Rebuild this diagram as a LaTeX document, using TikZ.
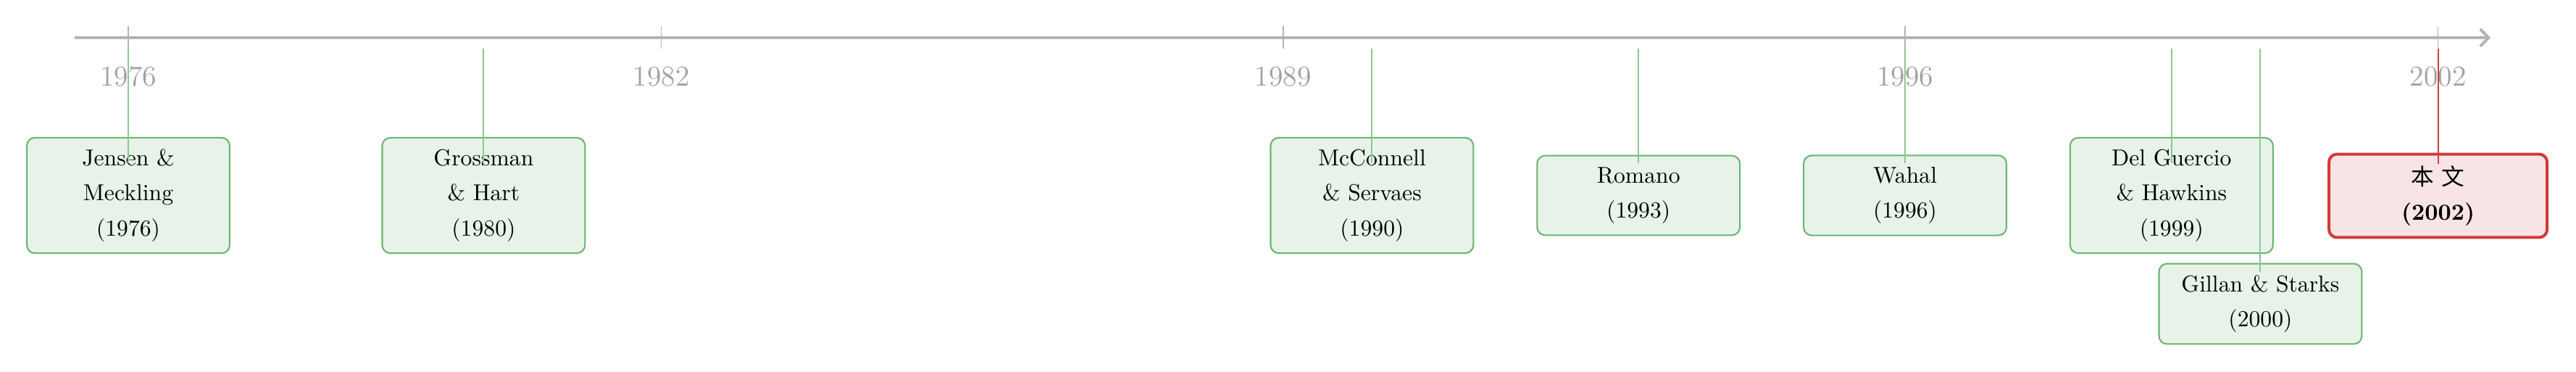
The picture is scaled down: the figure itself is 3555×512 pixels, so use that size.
\documentclass[tikz,border=0pt]{standalone}
\usepackage{fontspec}
\newfontfamily\cjk{Noto Sans CJK SC}
\usetikzlibrary{arrows.meta,calc}
\definecolor{axisgray}{HTML}{B3B3B3}
\definecolor{labelgray}{HTML}{A0A0A0}
\definecolor{boxgreen}{HTML}{6AB46E}
\definecolor{fillgreen}{HTML}{E7F3E8}
\definecolor{linegreen}{HTML}{8CC792}
\definecolor{boxred}{HTML}{D13A3A}
\definecolor{fillred}{HTML}{F8E4E5}
\definecolor{linered}{HTML}{D53C3C}
\begin{document}
\begin{tikzpicture}[x=0.3155pt,y=-0.3155pt,
  evbox/.style={draw=boxgreen, fill=fillgreen, line width=0.65pt, rounded corners=3.5pt,
    align=center, minimum width=88.3pt, inner sep=5pt, font=\fontsize{10}{15.3}\selectfont},
  threeline/.style={minimum height=50.2pt},
  twoline/.style={minimum height=34.4pt},
  mainbox/.style={draw=boxred, fill=fillred, line width=1.26pt, rounded corners=3.5pt,
    align=center, minimum width=95pt, minimum height=35.4pt, inner sep=5pt,
    font=\fontsize{10}{15.3}\selectfont},
  yearlbl/.style={text=labelgray, font=\fontsize{12.5}{15}\selectfont, inner sep=0pt},
  tickmark/.style={draw=axisgray, line width=0.45pt},
  conn/.style={draw=linegreen, line width=0.6pt},
  connred/.style={draw=linered, line width=0.6pt},
  axisline/.style={draw=axisgray, line width=1.26pt, -{Straight Barb[length=3.6pt,width=7.5pt]}},
]
\useasboundingbox[fill=white] (0,0) rectangle (3555,512);

% axis
\coordinate (axstart) at (103,52);
\coordinate (axend) at (3437,52);
\draw[axisline] (axstart) -- (axend);

% ticks
\coordinate (tt1976) at (177,36);    \coordinate (tb1976) at (177,67);
\coordinate (tt1982) at (912.6,36);  \coordinate (tb1982) at (912.6,67);
\coordinate (tt1989) at (1770.8,36); \coordinate (tb1989) at (1770.8,67);
\coordinate (tt1996) at (2629,36);   \coordinate (tb1996) at (2629,67);
\coordinate (tt2002) at (3364.6,36); \coordinate (tb2002) at (3364.6,67);
\foreach \yr in {1976,1982,1989,1996,2002}{
  \draw[tickmark] (tt\yr) -- (tb\yr);
}

% year labels
\node[yearlbl] (l1976) at (177,106) {1976};
\node[yearlbl] (l1982) at (912.6,106) {1982};
\node[yearlbl] (l1989) at (1770.8,106) {1989};
\node[yearlbl] (l1996) at (2629,106) {1996};
\node[yearlbl] (l2002) at (3364.6,106) {2002};

% connector start points
\coordinate (s1980) at (667.4,67);
\coordinate (s1990) at (1893.4,67);
\coordinate (s1993) at (2261.2,67);
\coordinate (s1999) at (2996.8,67);
\coordinate (s2000) at (3119.4,67);

% boxes
\node[evbox,threeline] (jensen) at (177,269.5) {Jensen \&\\Meckling\\(1976)};
\node[evbox,threeline] (grossman) at (667.4,269.5) {Grossman\\\& Hart\\(1980)};
\node[evbox,threeline] (mcconnell) at (1893.4,269.5) {McConnell\\\& Servaes\\(1990)};
\node[evbox,twoline] (romano) at (2261.2,269.5) {Romano\\(1993)};
\node[evbox,twoline] (wahal) at (2629,269.5) {Wahal\\(1996)};
\node[evbox,threeline] (delguercio) at (2996.8,269.5) {Del Guercio\\\& Hawkins\\(1999)};
\node[evbox,twoline] (gillan) at (3119.4,419) {Gillan \& Starks\\(2000)};
\node[mainbox] (benwen) at (3364.6,270) {{\cjk 本\hspace{3.3pt}文}\\\textbf{(2002)}};

% connectors
\draw[conn] (tb1976) -- ([yshift=13.9pt]jensen.center);
\draw[conn] (s1980) -- ([yshift=13.9pt]grossman.center);
\draw[conn] (s1990) -- ([yshift=13.9pt]mcconnell.center);
\draw[conn] (s1993) -- ([yshift=13.9pt]romano.center);
\draw[conn] (tb1996) -- ([yshift=13.9pt]wahal.center);
\draw[conn] (s1999) -- ([yshift=13.9pt]delguercio.center);
\draw[conn] (s2000) -- ([yshift=13.9pt]gillan.center);
\draw[connred] (tb2002) -- ([yshift=13.9pt]benwen.center);
\end{tikzpicture}
\end{document}
